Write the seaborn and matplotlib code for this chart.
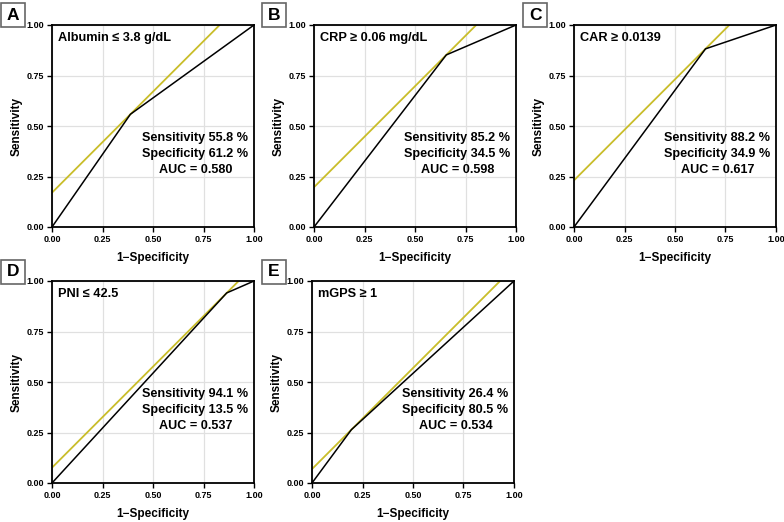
# ROC curves for the five markers
import matplotlib.pyplot as plt
import pandas as pd
import seaborn as sns
from matplotlib.patches import Rectangle

# values
panel_letters = ['A', 'B', 'C', 'D', 'E']
marker_names = ['Albumin ≤ 3.8 g/dL', 'CRP ≥ 0.06 mg/dL', 'CAR ≥ 0.0139', 'PNI ≤ 42.5', 'mGPS ≥ 1']
sensitivity = [55.8, 85.2, 88.2, 94.1, 26.4]
specificity = [61.2, 34.5, 34.9, 13.5, 80.5]
auc_values = [0.580, 0.598, 0.617, 0.537, 0.534]
tick_values = [0.0, 0.25, 0.5, 0.75, 1.0]
tick_labels = ['0.00', '0.25', '0.50', '0.75', '1.00']

sns.set_style('whitegrid')
plt.rcParams['font.family'] = ['Liberation Sans', 'DejaVu Sans']
plt.rcParams['font.weight'] = 'bold'
plt.rcParams['text.color'] = 'black'
plt.rcParams['axes.labelcolor'] = 'black'
plt.rcParams['xtick.color'] = 'black'
plt.rcParams['ytick.color'] = 'black'

fig = plt.figure(figsize=(7.84, 5.22), dpi=100)

# axes positions in pixels (left, top) ; all axes are ~202x202 px
ax_pos = [(52, 25), (314, 25), (574, 25), (52, 281), (312, 281)]
label_pos = [(1, 3), (262, 3), (523, 3), (1, 260), (262, 260)]
W, H = 784, 522
size = 202

for i in range(5):
    left, top = ax_pos[i]
    ax = fig.add_axes([left / W, 1 - (top + size) / H, size / W, size / H])

    fpr = 1 - specificity[i] / 100
    tpr = sensitivity[i] / 100
    roc = pd.DataFrame({'x': [0, fpr, 1], 'y': [0, tpr, 1]})

    # tangent line (slope 1) through the cut-off point
    ax.axline((fpr, tpr), slope=1, color='#C9BD2A', lw=1.3, zorder=2)
    sns.lineplot(data=roc, x='x', y='y', ax=ax, color='black', lw=1.1, zorder=3,
                 sort=False, estimator=None)

    ax.set_xlim(0, 1)
    ax.set_ylim(0, 1)
    ax.set_xticks(tick_values)
    ax.set_yticks(tick_values)
    ax.set_xticklabels(tick_labels, fontsize=6.5, fontweight='bold')
    ax.set_yticklabels(tick_labels, fontsize=6.5, fontweight='bold')
    ax.tick_params(axis='both', length=3.5, width=1, color='black', pad=2, bottom=True, left=True)
    ax.grid(True, color='#E0E0E0', lw=0.9)
    for s in ax.spines.values():
        s.set_color('black')
        s.set_linewidth(1.3)
    ax.set_xlabel('1\u2212Specificity', fontsize=8.5, fontweight='bold', labelpad=6)
    ax.set_ylabel('Sensitivity', fontsize=8.5, fontweight='bold', labelpad=3)

    ax.text(0.03, 0.935, marker_names[i], transform=ax.transAxes, fontsize=9.2,
            fontweight='bold', ha='left', va='center')
    txt = 'Sensitivity %.1f %%\nSpecificity %.1f %%\nAUC = %.3f' % (
        sensitivity[i], specificity[i], auc_values[i])
    ax.text(0.71, 0.36, txt, transform=ax.transAxes, fontsize=9.1, fontweight='bold',
            ha='center', va='center', multialignment='center', linespacing=1.45)

    # panel letter in a grey box
    lx, ly = label_pos[i]
    fig.patches.append(Rectangle((lx / W, 1 - (ly + 24) / H), 24 / W, 24 / H,
                                 transform=fig.transFigure, fc='white', ec='#666666', lw=1.2))
    fig.text((lx + 12) / W, 1 - (ly + 12) / H, panel_letters[i], fontsize=12.5,
             fontweight='bold', ha='center', va='center')

fig.savefig('out.png', dpi=100)
